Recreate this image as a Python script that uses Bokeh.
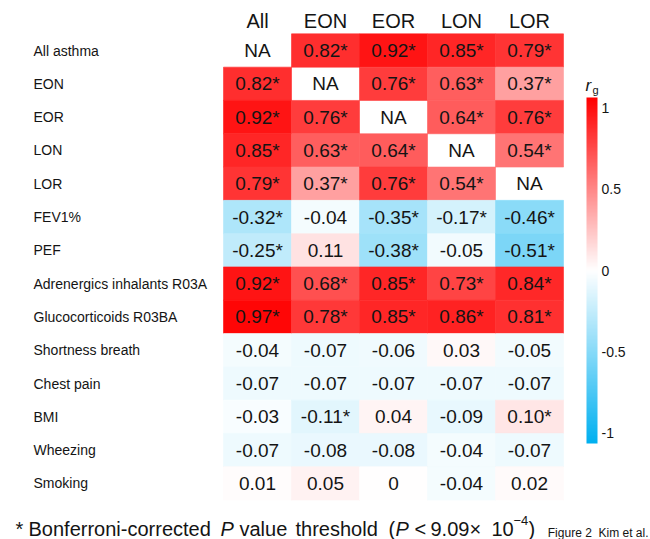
from bokeh.plotting import figure
from bokeh.models import ColumnDataSource, Range1d, LinearColorMapper, ColorBar, FixedTicker
from bokeh.transform import transform
from bokeh.core.properties import value
from bokeh.embed import file_html
from bokeh.resources import INLINE

# ---------------- data ----------------
columns = ["All", "EON", "EOR", "LON", "LOR"]
traits = ["All asthma", "EON", "EOR", "LON", "LOR", "FEV1%", "PEF",
          "Adrenergics inhalants R03A", "Glucocorticoids R03BA",
          "Shortness breath", "Chest pain", "BMI", "Wheezing", "Smoking"]

rg_All = [None, 0.82, 0.92, 0.85, 0.79, -0.32, -0.25, 0.92, 0.97, -0.04, -0.07, -0.03, -0.07, 0.01]
rg_EON = [0.82, None, 0.76, 0.63, 0.37, -0.04, 0.11, 0.68, 0.78, -0.07, -0.07, -0.11, -0.08, 0.05]
rg_EOR = [0.92, 0.76, None, 0.64, 0.76, -0.35, -0.38, 0.85, 0.85, -0.06, -0.07, 0.04, -0.08, 0.0]
rg_LON = [0.85, 0.63, 0.64, None, 0.54, -0.17, -0.05, 0.73, 0.86, 0.03, -0.07, -0.09, -0.04, -0.04]
rg_LOR = [0.79, 0.37, 0.76, 0.54, None, -0.46, -0.51, 0.84, 0.81, -0.05, -0.07, 0.10, -0.07, 0.02]

sig_All = [0, 1, 1, 1, 1, 1, 1, 1, 1, 0, 0, 0, 0, 0]
sig_EON = [1, 0, 1, 1, 1, 0, 0, 1, 1, 0, 0, 1, 0, 0]
sig_EOR = [1, 1, 0, 1, 1, 1, 1, 1, 1, 0, 0, 0, 0, 0]
sig_LON = [1, 1, 1, 0, 1, 1, 0, 1, 1, 0, 0, 0, 0, 0]
sig_LOR = [1, 1, 1, 1, 0, 1, 1, 1, 1, 0, 0, 1, 0, 0]

colorbar_ticks = [-1, -0.5, 0, 0.5, 1]
colorbar_labels = ["-1", "-0.5", "0", "0.5", "1"]

rg_cols = [rg_All, rg_EON, rg_EOR, rg_LON, rg_LOR]
sig_cols = [sig_All, sig_EON, sig_EOR, sig_LON, sig_LOR]

# ---------------- layout ----------------
W, H = 650, 539
CELL_W, CELL_H = 68.0, 33.3
GRID_X0 = 223.0      # left edge of grid (px)
ROW0_CY = 50.0       # centre of first row (px)

def px(x):   # pixel -> data x
    return (x - GRID_X0) / CELL_W - 0.5

def py(y):   # pixel -> data y (rows run downwards)
    return (y - ROW0_CY) / CELL_H

FONT = value("Liberation Sans")
TXT = "#141414"

# palette blue -> white -> red
def lerp(a, b, t):
    return tuple(round(a[i] + (b[i] - a[i]) * t) for i in range(3))
BLUE, WHITE, RED = (0, 176, 240), (255, 255, 255), (255, 0, 0)
palette = []
for k in range(256):
    t = k / 255 * 2 - 1
    c = lerp(WHITE, BLUE, -t) if t < 0 else lerp(WHITE, RED, t)
    palette.append("#%02x%02x%02x" % c)

cell_mapper = LinearColorMapper(palette=palette, low=-1, high=1)
bar_mapper = LinearColorMapper(palette=palette, low=-1.065, high=1.065)

cx, cy, cv, clab = [], [], [], []
nx, ny = [], []
for i, (vals, sigs) in enumerate(zip(rg_cols, sig_cols)):
    for j, (v, s) in enumerate(zip(vals, sigs)):
        if v is None:
            nx.append(i); ny.append(j)
        else:
            cx.append(i); cy.append(j); cv.append(v)
            lab = "0" if v == 0 else f"{v:.2f}"
            clab.append(lab + ("*" if s else ""))

cells = ColumnDataSource(dict(x=cx, y=cy, v=cv, lab=clab))

p = figure(width=W, height=H, output_backend="svg", toolbar_location=None,
           x_range=Range1d(px(0), px(W)), y_range=Range1d(py(H), py(0)),
           min_border=0, tools="")
p.axis.visible = False
p.grid.visible = False
p.outline_line_color = None
p.background_fill_color = "white"
p.border_fill_color = "white"

p.rect(x="x", y="y", width=1, height=1, source=cells,
       fill_color=transform("v", cell_mapper),
       line_color=transform("v", cell_mapper), line_width=0.6)

p.text(x="x", y="y", text="lab", source=cells, text_align="center",
       text_baseline="middle", text_font=FONT, text_font_size="19px", text_color=TXT)
p.text(x=nx, y=ny, text=["NA"] * len(nx), text_align="center",
       text_baseline="middle", text_font=FONT, text_font_size="19px", text_color=TXT)

# column headers
p.text(x=list(range(len(columns))), y=[py(20)] * len(columns), text=columns,
       text_align="center", text_baseline="middle", text_font=FONT,
       text_font_size="20px", text_color=TXT)

# row labels
p.text(x=[px(33)] * len(traits), y=list(range(len(traits))), text=traits,
       text_align="left", text_baseline="middle", text_font=FONT,
       text_font_size="14px", text_color=TXT)

# colour bar
cb = ColorBar(color_mapper=bar_mapper, ticker=FixedTicker(ticks=colorbar_ticks),
              major_label_overrides={t: l for t, l in zip(colorbar_ticks, colorbar_labels)},
              width=11, height=346, location=(586, 96), orientation="vertical",
              padding=0, margin=0, label_standoff=4,
              major_tick_line_color=None, minor_tick_line_color=None,
              bar_line_color=None, border_line_color=None,
              background_fill_alpha=0,
              major_label_text_font="Liberation Sans",
              major_label_text_font_size="14px", major_label_text_color=TXT)
p.add_layout(cb, "center")

# r_g title
p.text(x=[px(585)], y=[py(85)], text=["r"], text_align="left", text_baseline="alphabetic",
       text_font=FONT, text_font_style="italic", text_font_size="17px", text_color=TXT)
p.text(x=[px(592)], y=[py(89)], text=["g"], text_align="left", text_baseline="alphabetic",
       text_font=FONT, text_font_size="11px", text_color=TXT)

# footnote
base = py(528)
parts = [(15, "*", "normal"), (28, "Bonferroni-corrected", "normal"), (220, "P", "italic"),
         (239, "value", "normal"), (295, "threshold", "normal"), (388, "(", "normal"),
         (395, "P", "italic"), (414, "<", "normal"), (430, "9.09\u00d7", "normal"),
         (491, "10", "normal"), (528, ")", "normal")]
for xp, t, st in parts:
    p.text(x=[px(xp)], y=[base], text=[t], text_align="left", text_baseline="alphabetic",
           text_font=FONT, text_font_style=st, text_font_size="20px", text_color=TXT)
p.text(x=[px(513)], y=[py(520)], text=["\u22124"], text_align="left", text_baseline="alphabetic",
       text_font=FONT, text_font_size="13px", text_color=TXT)
p.text(x=[px(648)], y=[py(532)], text=["Figure 2_Kim et al."], text_align="right",
       text_baseline="alphabetic", text_font=FONT, text_font_size="12px", text_color=TXT)

open("out.html", "w").write(file_html(p, INLINE))
